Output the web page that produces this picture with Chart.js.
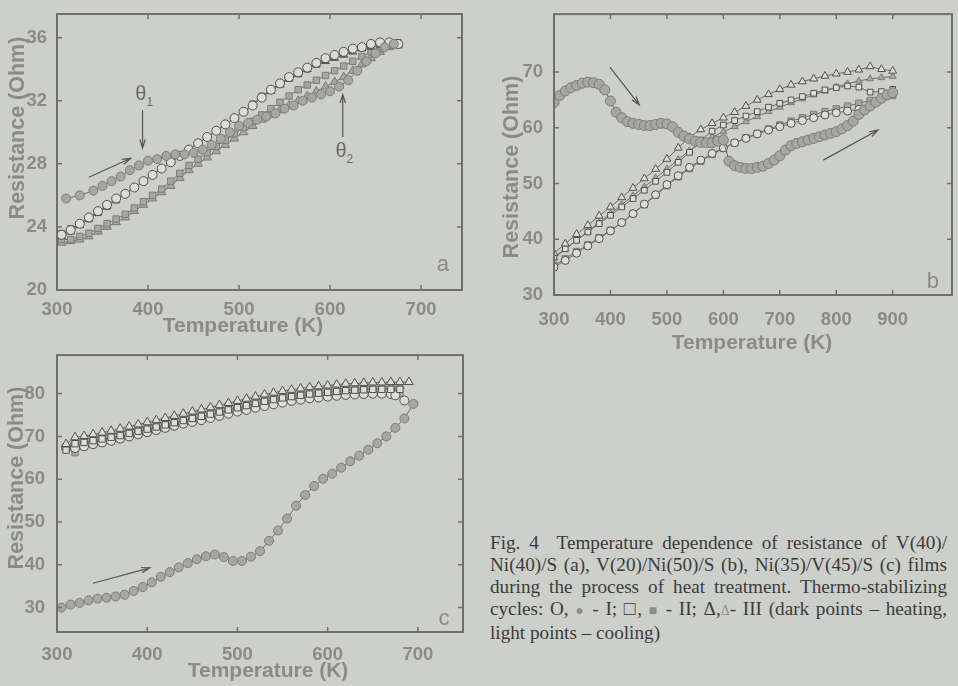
<!DOCTYPE html>
<html>
<head>
<meta charset="utf-8">
<script src="https://cdn.jsdelivr.net/npm/chart.js@4.4.1/dist/chart.umd.min.js"></script>
<style>
  html, body { margin: 0; padding: 0; }
  body { width: 958px; height: 686px; background: #cdcfcb; position: relative; overflow: hidden; }
  canvas { position: absolute; }
  #caption { position: absolute; left: 490px; top: 532px; width: 457px; font: 19.2px "Liberation Serif", "DejaVu Serif", serif; color: #3b3c39; line-height: 22px; }
  #caption div { text-align: justify; text-align-last: justify; white-space: nowrap; }
  #caption div.last { text-align-last: left; }
  .g { color: #8d8e8a; font-size: 14px; }
</style>
</head>
<body>
<canvas id="ca" width="470" height="340" style="left:0;top:0"></canvas>
<canvas id="cb" width="468" height="360" style="left:490px;top:0"></canvas>
<canvas id="cc" width="470" height="346" style="left:0;top:340px"></canvas>
<div id="caption">
  <div>Fig. 4&nbsp; Temperature dependence of resistance of V(40)/</div>
  <div>Ni(40)/S (a), V(20)/Ni(50)/S (b), Ni(35)/V(45)/S (c) films</div>
  <div>during the process of heat treatment. Thermo-stabilizing</div>
  <div>cycles: O, <span class="g">&#9679;</span> - I; &#9633;, <span class="g">&#9632;</span> - II; &Delta;,<span class="g">&Delta;</span>- III (dark points &ndash; heating,</div>
  <div class="last">light points &ndash; cooling)</div>
</div>
<script>
// ---- panel a : V(40)/Ni(40)/S ----
const aTicksX = [300, 400, 500, 600, 700];
const aTicksY = [20, 24, 28, 32, 36];
const aHeatIT = [310,325,340,350,360,370,380,390,400,410,420,430,440,450,460,470,480,490,500,510,520,530,540,550,560,570,580,590,600,610,620,630,640,650,660,670];
const aHeatI = [25.8,26.0,26.3,26.6,26.9,27.2,27.6,27.9,28.2,28.3,28.5,28.6,28.6,28.7,28.9,29.2,29.6,30.0,30.4,30.6,30.8,31.0,31.2,31.5,31.7,32.0,32.2,32.4,32.6,32.9,33.3,33.9,34.5,35.0,35.4,35.6];
const aT = [305,315,325,335,345,355,365,375,385,395,405,415,425,435,445,455,465,475,485,495,505,515,525,535,545,555,565,575,585,595,605,615,625,635,645,655,665,675];
const aCoolI = [23.5,23.8,24.2,24.6,25.0,25.4,25.8,26.1,26.5,26.9,27.3,27.7,28.1,28.5,28.9,29.3,29.7,30.1,30.5,30.9,31.3,31.7,32.2,32.7,33.1,33.5,33.8,34.1,34.4,34.7,34.9,35.1,35.3,35.4,35.6,35.7,35.7,35.6];
const aCoolII = [23.6,23.9,24.2,24.5,24.9,25.3,25.7,26.1,26.5,26.9,27.3,27.7,28.1,28.5,28.9,29.3,29.7,30.1,30.5,30.9,31.3,31.8,32.3,32.7,33.1,33.4,33.7,34.0,34.3,34.6,34.8,35.0,35.2,35.4,35.5,35.6,35.7,35.7];
const aCoolIII = [23.4,23.7,24.1,24.5,24.9,25.3,25.7,26.1,26.5,26.9,27.3,27.7,28.1,28.5,28.9,29.3,29.7,30.1,30.5,30.9,31.3,31.7,32.2,32.6,33.0,33.4,33.7,34.0,34.3,34.5,34.7,34.9,35.1,35.3,35.4,35.5,35.6,35.6];
const aHeatII = [23.2,23.2,23.4,23.6,23.9,24.2,24.5,24.8,25.2,25.6,26.0,26.4,26.9,27.4,27.9,28.3,28.7,29.1,29.5,29.9,30.3,30.7,31.1,31.5,31.9,32.3,32.7,33.0,33.3,33.6,33.9,34.2,34.5,34.8,35.1,35.3,35.5,35.6];
const aHeatIII = [23.0,23.1,23.2,23.4,23.7,24.0,24.3,24.6,25.0,25.4,25.8,26.2,26.6,27.1,27.6,28.0,28.4,28.8,29.2,29.6,30.0,30.4,30.8,31.1,31.4,31.7,32.0,32.3,32.6,32.9,33.2,33.5,33.9,34.3,34.7,35.1,35.4,35.5];

// ---- panel b : V(20)/Ni(50)/S ----
const bTicksX = [300, 400, 500, 600, 700, 800, 900];
const bTicksY = [30, 40, 50, 60, 70];
const bHeatIT = [300,310,320,330,340,350,360,370,380,390,400,410,420,430,440,450,460,470,480,490,500,510,520,530,540,550,560,570,580,590,600,610,620,630,640,650,660,670,680,690,700,710,720,730,740,750,760,770,780,790,800,810,820,830,840,850,860,870,880,890,900];
const bHeatI = [64.5,65.8,66.6,67.2,67.6,68.0,68.2,68.1,67.8,66.8,64.8,62.8,61.8,61.1,60.8,60.6,60.4,60.4,60.6,60.8,60.7,60.2,59.2,58.5,58.0,57.6,57.4,57.3,57.3,57.6,57.8,54.0,53.2,52.9,52.7,52.7,52.9,53.1,53.6,54.2,55.0,56.0,56.8,57.2,57.5,57.8,58.1,58.4,58.7,59.0,59.3,59.8,60.4,61.2,62.4,63.2,63.9,64.6,65.3,65.9,66.3];
const bT = [300,320,340,360,380,400,420,440,460,480,500,520,540,560,580,600,620,640,660,680,700,720,740,760,780,800,820,840,860,880,900];
const bCoolIII = [37.5,39.2,40.9,42.5,44.2,45.8,47.5,49.2,50.9,52.6,54.4,56.4,58.3,59.7,60.8,61.8,62.8,63.9,65.0,66.0,66.9,67.7,68.3,68.8,69.3,69.7,70.0,70.4,71.0,70.5,70.2];
const bHeatIII = [36.6,38.2,39.8,41.4,43.0,44.6,46.2,47.8,49.4,51.0,52.6,54.3,55.9,57.2,58.3,59.3,60.2,61.1,62.0,62.9,63.7,64.5,65.2,65.9,66.6,67.3,67.9,68.4,68.8,69.0,69.2];
const bCoolII = [36.8,38.3,39.8,41.3,42.8,44.3,45.8,47.3,48.8,50.4,52.0,53.8,55.6,57.8,59.4,60.5,61.3,62.1,62.9,63.7,64.4,65.0,65.6,66.2,66.8,67.2,67.5,67.3,66.4,66.5,66.9];
const bHeatII = [35.3,36.5,37.8,39.0,40.3,41.6,43.0,44.6,46.2,47.9,49.6,51.2,52.7,54.0,55.2,56.3,57.3,58.2,59.0,59.8,60.5,61.2,61.8,62.4,62.9,63.4,63.9,64.4,64.9,65.4,65.8];
const bCoolI = [35.0,36.2,37.5,38.8,40.1,41.5,43.0,44.6,46.3,48.0,49.8,51.4,52.9,54.2,55.4,56.4,57.3,58.1,58.9,59.6,60.2,60.8,61.3,61.8,62.3,62.7,63.0,63.3,64.0,65.2,66.2];

// ---- panel c : Ni(35)/V(45)/S ----
const cTicksX = [300, 400, 500, 600, 700];
const cTicksY = [30, 40, 50, 60, 70, 80];
const cHeatIT = [305,315,325,335,345,355,365,375,385,395,405,415,425,435,445,455,465,475,485,495,505,515,525,535,545,555,565,575,585,595,605,615,625,635,645,655,665,675,685,695];
const cHeatI = [30.0,30.7,31.1,31.7,32.1,32.3,32.6,33.0,33.9,34.8,35.9,37.2,38.3,39.4,40.4,41.3,42.0,42.4,41.8,40.9,40.9,41.9,43.2,45.6,48.0,50.8,53.8,56.3,58.4,60.1,61.3,62.7,64.2,65.5,66.9,68.4,70.0,72.0,74.2,77.6];
const cT = [310,320,330,340,350,360,370,380,390,400,410,420,430,440,450,460,470,480,490,500,510,520,530,540,550,560,570,580,590,600,610,620,630,640,650,660,670,680];
const cTriT = [310,320,330,340,350,360,370,380,390,400,410,420,430,440,450,460,470,480,490,500,510,520,530,540,550,560,570,580,590,600,610,620,630,640,650,660,670,680,690];
const cCoolIII = [68.2,69.8,70.1,70.5,70.9,71.3,71.8,72.3,72.8,73.3,73.8,74.3,74.8,75.3,75.8,76.3,76.8,77.3,77.8,78.3,78.8,79.3,79.8,80.2,80.6,80.9,81.2,81.5,81.7,81.9,82.1,82.3,82.4,82.5,82.6,82.6,82.7,82.7,82.7];
const cHeatIII = [67.5,68.9,69.2,69.6,70.0,70.4,70.9,71.4,71.9,72.4,72.9,73.4,73.9,74.4,74.9,75.4,75.9,76.4,76.9,77.4,77.9,78.4,78.8,79.2,79.6,79.9,80.2,80.5,80.7,80.9,81.1,81.3,81.4,81.5,81.6,81.6,81.7,81.8];
const cCoolII = [66.8,68.3,68.6,69.0,69.4,69.8,70.2,70.7,71.2,71.7,72.2,72.7,73.2,73.7,74.2,74.7,75.2,75.7,76.2,76.7,77.2,77.7,78.2,78.6,79.0,79.3,79.6,79.9,80.1,80.3,80.5,80.7,80.8,80.9,81.0,81.0,81.0,81.0];
const cHeatII = [67.4,66.2,67.6,68.1,68.5,68.9,69.4,69.9,70.4,70.9,71.4,71.9,72.4,72.9,73.4,73.9,74.4,74.9,75.4,75.9,76.4,76.9,77.3,77.7,78.1,78.4,78.7,78.9,79.1,79.3,79.5,79.7,79.8,79.9,80.0,80.0,80.0,80.0];
const cCoolIT = [310,320,330,340,350,360,370,380,390,400,410,420,430,440,450,460,470,480,490,500,510,520,530,540,550,560,570,580,590,600,610,620,630,640,650,660,670,675,685];
const cCoolI = [67.5,67.3,67.7,68.2,68.6,69.0,69.5,70.0,70.5,71.0,71.5,72.0,72.5,73.0,73.4,73.8,74.3,74.8,75.3,75.8,76.2,76.7,77.1,77.5,77.9,78.3,78.6,78.9,79.1,79.3,79.5,79.7,79.8,79.9,80.0,80.0,79.9,79.6,78.4];

const INK = '#8a8b87';
const FRAME = '#6f706c';
const LINE = '#6b6c68';
const FILLED = '#a6a7a3';
const HOLLOW = '#dcddd9';
const SANS = '"Liberation Sans", Arial, sans-serif';

function pts(T, R) {
  return T.map((t, i) => ({ x: t, y: R[i] }));
}

function series(T, R, shape, filled, r) {
  return {
    data: pts(T, R),
    showLine: true,
    borderColor: LINE,
    borderWidth: 1,
    pointStyle: shape,
    pointRadius: r,
    pointBackgroundColor: filled ? FILLED : HOLLOW,
    pointBorderColor: filled ? '#7b7c78' : '#4f504d',
    pointBorderWidth: 1
  };
}

function arrow(ctx, x1, y1, x2, y2) {
  const a = Math.atan2(y2 - y1, x2 - x1);
  ctx.beginPath();
  ctx.moveTo(x1, y1);
  ctx.lineTo(x2, y2);
  ctx.moveTo(x2 - 9 * Math.cos(a - 0.3), y2 - 9 * Math.sin(a - 0.3));
  ctx.lineTo(x2, y2);
  ctx.lineTo(x2 - 9 * Math.cos(a + 0.3), y2 - 9 * Math.sin(a + 0.3));
  ctx.stroke();
}

function decor(cfg) {
  return {
    id: 'decor',
    afterDatasetsDraw(chart) {
      const { ctx, chartArea: ca, scales: { x, y } } = chart;
      ctx.save();
      ctx.strokeStyle = FRAME;
      ctx.lineWidth = 2;
      ctx.strokeRect(ca.left, ca.top, ca.right - ca.left, ca.bottom - ca.top);
      ctx.lineWidth = 1.5;
      ctx.beginPath();
      cfg.xTicks.forEach(v => {
        const px = x.getPixelForValue(v);
        ctx.moveTo(px, ca.bottom); ctx.lineTo(px, ca.bottom - 5);
        ctx.moveTo(px, ca.top); ctx.lineTo(px, ca.top + 5);
      });
      cfg.yTicks.forEach(v => {
        const py = y.getPixelForValue(v);
        ctx.moveTo(ca.left, py); ctx.lineTo(ca.left + 5, py);
        ctx.moveTo(ca.right, py); ctx.lineTo(ca.right - 5, py);
      });
      ctx.stroke();

      ctx.strokeStyle = '#555653';
      ctx.lineWidth = 1.2;
      cfg.arrows.forEach(a => arrow(ctx, x.getPixelForValue(a[0]), y.getPixelForValue(a[1]), x.getPixelForValue(a[2]), y.getPixelForValue(a[3])));

      ctx.textAlign = 'center';
      ctx.textBaseline = 'middle';
      cfg.notes.forEach(n => {
        const px = x.getPixelForValue(n.x), py = y.getPixelForValue(n.y);
        ctx.fillStyle = n.color;
        ctx.font = n.font;
        ctx.fillText(n.text, px, py);
        if (n.sub) {
          ctx.font = '12px ' + SANS;
          ctx.fillText(n.sub, px + 9, py + 8);
        }
      });

      ctx.fillStyle = INK;
      ctx.font = 'bold 21px ' + SANS;
      ctx.fillText(cfg.xTitle, cfg.xTitlePos[0], cfg.xTitlePos[1]);
      ctx.translate(cfg.yTitlePos[0], cfg.yTitlePos[1]);
      ctx.rotate(-Math.PI / 2);
      ctx.font = 'bold 21.5px ' + SANS;
      ctx.fillText(cfg.yTitle, 0, 0);
      ctx.restore();
    }
  };
}

function makeChart(id, cfg) {
  const tickFont = { family: SANS, size: 18.5, weight: 'bold' };
  return new Chart(document.getElementById(id), {
    type: 'scatter',
    data: { datasets: cfg.datasets },
    options: {
      responsive: false,
      animation: false,
      layout: { padding: cfg.pad },
      plugins: { legend: { display: false }, tooltip: { enabled: false } },
      scales: {
        x: {
          type: 'linear', min: cfg.xMin, max: cfg.xMax,
          grid: { display: false }, border: { display: false },
          ticks: { color: INK, font: tickFont, padding: cfg.xPad, maxRotation: 0, autoSkip: false },
          afterBuildTicks: s => { s.ticks = cfg.xTicks.map(v => ({ value: v })); },
          afterFit: s => { s.height = cfg.xH; }
        },
        y: {
          type: 'linear', min: cfg.yMin, max: cfg.yMax,
          grid: { display: false }, border: { display: false },
          ticks: { color: INK, font: tickFont, padding: cfg.yPad },
          afterBuildTicks: s => { s.ticks = cfg.yTicks.map(v => ({ value: v })); },
          afterFit: s => { s.width = cfg.yW; }
        }
      }
    },
    plugins: [decor(cfg)]
  });
}

const thetaFont = '20px ' + SANS;
const letterFont = '22px ' + SANS;

makeChart('ca', {
  xMin: 300, xMax: 745, yMin: 20, yMax: 37.5,
  xTicks: aTicksX, yTicks: aTicksY,
  pad: { top: 14, right: 8, left: 0, bottom: 0 },
  xH: 50, yW: 57, xPad: 1, yPad: 2,
  xTitle: 'Temperature (K)', xTitlePos: [243, 326],
  yTitle: 'Resistance (Ohm)', yTitlePos: [18, 128],
  arrows: [[335, 27.15, 381, 28.35], [394, 31.4, 394, 29.0], [614, 29.7, 614, 32.4]],
  notes: [
    { text: '\u03b8', sub: '1', x: 392, y: 32.4, font: thetaFont, color: '#6a6b67' },
    { text: '\u03b8', sub: '2', x: 612, y: 28.8, font: thetaFont, color: '#6a6b67' },
    { text: 'a', x: 724, y: 21.6, font: letterFont, color: INK }
  ],
  datasets: [
    series(aHeatIT, aHeatI, 'circle', true, 4.5),
    series(aT, aCoolI, 'circle', false, 4.5),
    series(aT, aCoolII, 'rect', false, 4),
    series(aT, aCoolIII, 'triangle', false, 4.5),
    series(aT, aHeatII, 'rect', true, 4.5),
    series(aT, aHeatIII, 'triangle', true, 5)
  ]
});

makeChart('cb', {
  xMin: 300, xMax: 1005, yMin: 30, yMax: 80.4,
  xTicks: bTicksX, yTicks: bTicksY,
  pad: { top: 14, right: 3, left: 0, bottom: 0 },
  xH: 65, yW: 64, xPad: 6, yPad: 3,
  xTitle: 'Temperature (K)', xTitlePos: [262, 343],
  yTitle: 'Resistance (Ohm)', yTitlePos: [22, 167],
  arrows: [[399, 70.9, 451, 64.1], [777, 54.2, 874, 59.6]],
  notes: [{ text: 'b', x: 971, y: 32.4, font: letterFont, color: INK }],
  datasets: [
    series(bHeatIT, bHeatI, 'circle', true, 5),
    series(bT, bCoolIII, 'triangle', false, 4.5),
    series(bT, bCoolII, 'rect', false, 4),
    series(bT, bCoolI, 'circle', false, 4),
    series(bT, bHeatIII, 'triangle', true, 4),
    series(bT, bHeatII, 'rect', true, 4.5)
  ]
});

makeChart('cc', {
  xMin: 300, xMax: 750, yMin: 24.3, yMax: 89,
  xTicks: cTicksX, yTicks: cTicksY,
  pad: { top: 7, right: 7, left: 0, bottom: 0 },
  xH: 54, yW: 57, xPad: 4, yPad: 4,
  xTitle: 'Temperature (K)', xTitlePos: [268, 331],
  yTitle: 'Resistance (Ohm)', yTitlePos: [17, 138],
  arrows: [[340, 35.7, 403, 39.3]],
  notes: [{ text: 'c', x: 729, y: 27.3, font: letterFont, color: INK }],
  datasets: [
    series(cHeatIT, cHeatI, 'circle', true, 4.5),
    series(cTriT, cCoolIII, 'triangle', false, 5),
    series(cT, cCoolII, 'rect', false, 4.5),
    series(cCoolIT, cCoolI, 'circle', false, 4.5),
    series(cT, cHeatIII, 'triangle', true, 5),
    series(cT, cHeatII, 'rect', true, 4.5)
  ]
});
</script>
</body>
</html>
